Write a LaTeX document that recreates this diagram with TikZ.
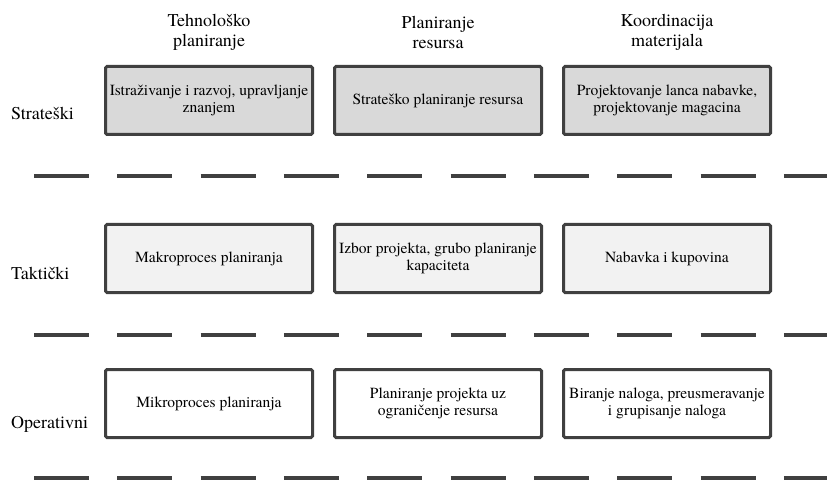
\documentclass[tikz,border=0pt]{standalone}
\usepackage{fontspec}
\IfFontExistsTF{TeX Gyre Termes}
  {\setmainfont{TeX Gyre Termes}}
  {\setmainfont{Liberation Serif}}
\definecolor{edgegray}{HTML}{404040}
\definecolor{fillstrat}{HTML}{D9D9D9}
\definecolor{filltakt}{HTML}{F2F2F2}
\begin{document}
\begin{tikzpicture}[x=1pt,y=-1pt,
  box/.style={draw=edgegray, line width=3pt, rounded corners=1.5pt,
    minimum width=207pt, minimum height=68pt, inner sep=0pt,
    align=center, font=\fontsize{15.5}{17.5}\selectfont},
  strat/.style={box, fill=fillstrat},
  takt/.style={box, fill=filltakt},
  oper/.style={box, fill=white},
  head/.style={align=center, inner sep=0pt, font=\fontsize{18}{20}\selectfont},
  level/.style={anchor=base west, inner sep=0pt, font=\fontsize{18}{20}\selectfont},
  separator/.style={draw=edgegray, line width=4pt, dash pattern=on 55pt off 28.33pt}]
\useasboundingbox (0,0) rectangle (827,481);

% column headings
\node[head] (h1) at (209,32.5) {Tehnološko\\planiranje};
\node[head] (h2) at (438,32.5) {Planiranje\\resursa};
\node[head] (h3) at (667,32.5) {Koordinacija\\materijala};

% level labels
\node[level] (l1) at (11,120) {Strateški};
\node[level] (l2) at (11,279) {Taktički};
\node[level] (l3) at (11,428) {Operativni};

% strategic level
\node[strat] (s1) at (209,100.5) {Istraživanje i razvoj, upravljanje\\znanjem};
\node[strat] (s2) at (438,100.5) {Strateško planiranje resursa};
\node[strat] (s3) at (667,100.5) {Projektovanje lanca nabavke,\\projektovanje magacina};

% tactical level
\node[takt] (t1) at (209,258.5) {Makroproces planiranja};
\node[takt] (t2) at (438,258.5) {Izbor projekta, grubo planiranje\\kapaciteta};
\node[takt] (t3) at (667,258.5) {Nabavka i kupovina};

% operational level
\node[oper] (o1) at (209,403.5) {Mikroproces planiranja};
\node[oper] (o2) at (438,403.5) {Planiranje projekta uz\\ograničenje resursa};
\node[oper] (o3) at (667,403.5) {Biranje naloga, preusmeravanje\\i grupisanje naloga};

% dashed separators between levels
\coordinate (d1a) at (34,176);  \coordinate (d1b) at (827,176);
\coordinate (d2a) at (34,335);  \coordinate (d2b) at (827,335);
\coordinate (d3a) at (34,478);  \coordinate (d3b) at (827,478);
\draw[separator] (d1a) -- (d1b);
\draw[separator] (d2a) -- (d2b);
\draw[separator] (d3a) -- (d3b);
\end{tikzpicture}
\end{document}
